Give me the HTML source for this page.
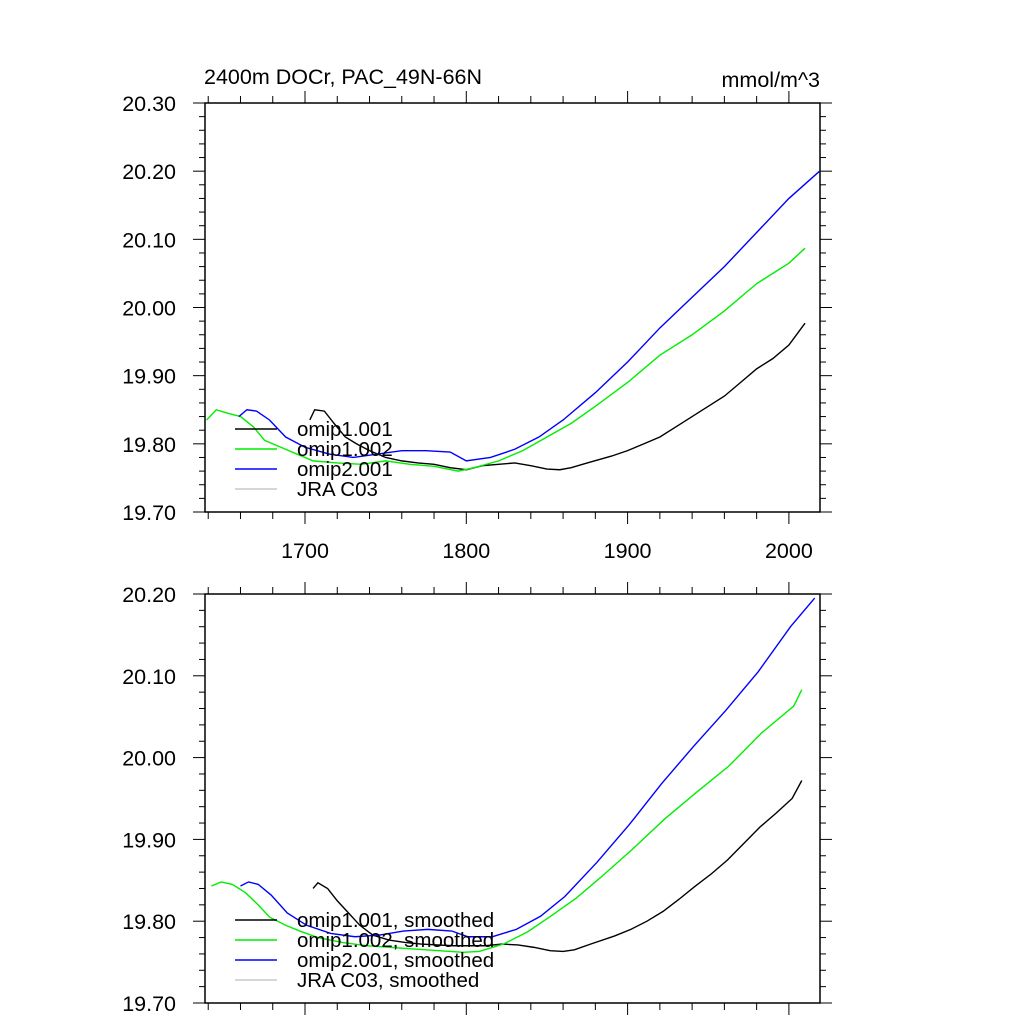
<!DOCTYPE html>
<html><head><meta charset="utf-8"><style>
body{margin:0;background:#fff}
svg text{font-family:"Liberation Sans",sans-serif;fill:#000}
</style></head><body>
<svg id="s" width="1024" height="1024" xmlns="http://www.w3.org/2000/svg">
<rect width="1024" height="1024" fill="#fff"/>
<text x="204" y="84" font-size="21.5">2400m DOCr, PAC_49N-66N</text>
<text x="820" y="87" font-size="21.5" text-anchor="end">mmol/m^3</text>
</svg>
<script>
const blackYears=[1703,1706,1712,1718,1725,1732,1740,1750,1760,1770,1780,1790,1800,1810,1820,1830,1840,1850,1858,1865,1875,1890,1900,1910,1920,1930,1940,1950,1960,1970,1980,1990,2000,2010];
const blackTop=[19.835,19.85,19.848,19.83,19.81,19.80,19.79,19.78,19.775,19.772,19.77,19.765,19.762,19.768,19.77,19.772,19.768,19.763,19.762,19.765,19.772,19.782,19.79,19.80,19.81,19.825,19.84,19.855,19.87,19.89,19.91,19.925,19.945,19.977];
const greenYears=[1639,1645,1652,1660,1668,1675,1685,1695,1705,1720,1735,1750,1765,1780,1795,1805,1820,1835,1850,1865,1880,1900,1920,1940,1960,1980,2000,2010];
const greenTop=[19.835,19.85,19.845,19.84,19.825,19.805,19.795,19.785,19.775,19.772,19.77,19.775,19.77,19.767,19.76,19.765,19.775,19.79,19.81,19.83,19.855,19.89,19.93,19.96,19.995,20.035,20.065,20.087];
const blueYears=[1659,1664,1670,1678,1688,1700,1715,1730,1745,1760,1775,1790,1800,1815,1830,1845,1860,1880,1900,1920,1940,1960,1980,2000,2019];
const blueTop=[19.84,19.85,19.848,19.835,19.81,19.795,19.785,19.78,19.785,19.79,19.79,19.788,19.775,19.78,19.792,19.81,19.835,19.875,19.92,19.97,20.015,20.06,20.11,20.16,20.20];
const blackBot=[19.84,19.847,19.84,19.825,19.81,19.795,19.783,19.777,19.774,19.772,19.771,19.77,19.77,19.77,19.772,19.771,19.768,19.764,19.763,19.765,19.772,19.782,19.79,19.80,19.812,19.827,19.843,19.858,19.875,19.895,19.915,19.932,19.95,19.972];
const greenBot=[19.843,19.848,19.845,19.835,19.82,19.805,19.795,19.787,19.78,19.774,19.77,19.768,19.766,19.764,19.762,19.763,19.772,19.787,19.807,19.828,19.853,19.888,19.925,19.958,19.99,20.03,20.063,20.083];
const blueBot=[19.843,19.848,19.845,19.832,19.81,19.795,19.785,19.781,19.783,19.788,19.79,19.788,19.781,19.781,19.79,19.806,19.83,19.872,19.918,19.968,20.014,20.058,20.105,20.16,20.195];
const xTicks=[1700,1800,1900,2000];
const topYTicks=[19.70,19.80,19.90,20.00,20.10,20.20,20.30];
const botYTicks=[19.70,19.80,19.90,20.00,20.10,20.20];
const NS='http://www.w3.org/2000/svg';
const svg=document.getElementById('s');
function el(t,a){const e=document.createElementNS(NS,t);for(const k in a)e.setAttribute(k,a[k]);svg.appendChild(e);return e;}
const L=205,R=820;
const xs=v=>305+(v-1700)*1.613;
function panel(tag,top,bot,ymin,ymax,yt,showX,series,legendY,legendNames){
  const ys=v=>bot-(v-ymin)/(ymax-ymin)*(bot-top);
  const f=el('rect',{x:L,y:top,width:R-L,height:bot-top,fill:'none',stroke:'#000','stroke-width':1.5});
  
  for(let y=1640;y<=2020;y+=20){const x=xs(y);if(x<L-0.5||x>R)continue;const maj=y%100===0;
    for(const [yy,d] of [[bot,1],[top,-1]]){const t=el('line',{x1:x,x2:x,y1:yy,y2:yy+d*(maj?12:7),stroke:'#000','stroke-width':1});
    }}
  xTicks.forEach(v=>{if(!showX)return;const t=el('text',{x:xs(v),y:bot+46,'font-size':21.5,'text-anchor':'middle'});t.textContent=v;
    });
  for(let v=ymin;v<=ymax+1e-9;v+=0.02){const y=ys(v);const maj=Math.abs(Math.round(v*10)-v*10)<1e-6;
    for(const [xx,d] of [[L,-1],[R,1]]){const t=el('line',{x1:xx,x2:xx+d*(maj?12:6),y1:y,y2:y,stroke:'#000','stroke-width':1});
    }}
  yt.forEach(v=>{const t=el('text',{x:176,y:ys(v)+8,'font-size':21.5,'text-anchor':'end'});t.textContent=v.toFixed(2);
    });
  series.forEach(([yrs,vals,col,nm])=>{const p=el('polyline',{points:yrs.map((y,i)=>xs(y)+','+ys(vals[i])).join(' '),fill:'none',stroke:col,'stroke-width':1.4});
    });
  const cols=['#000','#00ee00','#0000ff','#c8c8c8'];
  legendNames.forEach((n,i)=>{const y=legendY+i*20;
    const l=el('line',{x1:235,x2:277,y1:y,y2:y,stroke:cols[i],'stroke-width':1.4});
    
    const t=el('text',{x:297,y:y+7,'font-size':20.5});t.textContent=n;
    });
}
panel('top',103,512,19.70,20.30,topYTicks,true,[[blackYears,blackTop,'#000','omip1-001'],[greenYears,greenTop,'#00ee00','omip1-002'],[blueYears,blueTop,'#0000ff','omip2-001']],429,['omip1.001','omip1.002','omip2.001','JRA C03']);
const blackYB=blackYears.map(y=>Math.min(y+2,2008)),greenYB=greenYears.map(y=>y+3>2008?2008:y+3),blueYB=blueYears.map(y=>y+1>2016?2016:y+1);
panel('bottom',594,1003,19.70,20.20,botYTicks,false,[[blackYB,blackBot,'#000','omip1-001'],[greenYB,greenBot,'#00ee00','omip1-002'],[blueYB,blueBot,'#0000ff','omip2-001']],920,['omip1.001, smoothed','omip1.002, smoothed','omip2.001, smoothed','JRA C03, smoothed']);
</script>
</body></html>
